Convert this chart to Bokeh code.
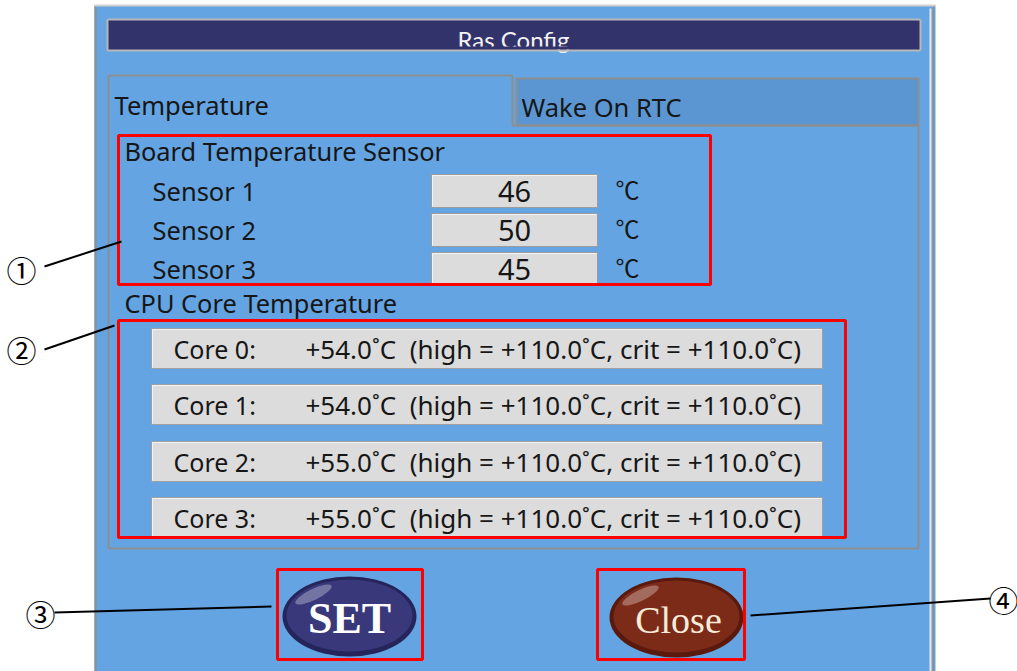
from bokeh.plotting import figure
from bokeh.models import Range1d
from bokeh.core.properties import value
from bokeh.embed import file_html
from bokeh.resources import INLINE

# ---- data ----
window_title = "Ras Config"
tab_labels = ["Temperature", "Wake On RTC"]
board_title = "Board Temperature Sensor"
sensor_labels = ["Sensor 1", "Sensor 2", "Sensor 3"]
sensor_values = [46, 50, 45]
sensor_unit = "℃"
cpu_title = "CPU Core Temperature"
core_labels = ["Core 0:", "Core 1:", "Core 2:", "Core 3:"]
core_temps = [54.0, 54.0, 55.0, 55.0]
core_high = [110.0, 110.0, 110.0, 110.0]
core_crit = [110.0, 110.0, 110.0, 110.0]
callout_marks = ["①", "②", "③", "④"]
button_labels = ["SET", "Close"]

# ---- styles / layout ----
BLUE = "#64a4e2"
TAB2 = "#5b96d3"
NAVY = "#33336b"
GRAY = "#8e8e8e"
BOXF = "#dcdcdc"
RED = "#ff0000"
TXT = "#161616"
FONT = value("Noto Sans")
CJK = value("Noto Sans CJK JP")

p = figure(width=1017, height=671, x_range=Range1d(0, 1017), y_range=Range1d(671, 0),
           output_backend="svg", toolbar_location=None, x_axis_type=None, y_axis_type=None,
           min_border=0, outline_line_color=None, background_fill_color="white",
           border_fill_color="white")
p.grid.visible = False

def rect(l, r, t, b, fill=None, line=None, lw=1, alpha=1.0):
    p.quad(left=[l], right=[r], top=[t], bottom=[b],
           fill_color=fill, fill_alpha=alpha if fill else 0,
           line_color=line, line_width=lw, line_alpha=1 if line else 0)

def seg(x0, y0, x1, y1, color, lw=1):
    p.segment(x0=[x0], y0=[y0], x1=[x1], y1=[y1], line_color=color, line_width=lw)

# outer panel
rect(94, 935, 5, 680, fill=BLUE, line=None)
seg(95, 5, 95, 680, GRAY, 2)
seg(933, 5, 933, 680, GRAY, 2)
seg(930, 8, 930, 680, "#e8e8e8", 2)
seg(94, 5, 935, 5, "#d0d0d0", 2)

# title bar
rect(107, 920, 19, 50, fill=NAVY)
p.text(x=[513], y=[39], text=[window_title], text_font=value("Lato"), text_font_size="24px",
       text_color="#f2f2f2", text_align="center", text_baseline="middle")
rect(107, 920, 46, 49, fill=NAVY)
seg(107, 19, 920, 19, "#b8b8b8", 2)
seg(107, 50, 920, 50, "#b8b8b8", 2)
seg(107, 19, 107, 50, "#b8b8b8", 2)
seg(920, 19, 920, 50, "#b8b8b8", 2)

# tabs
rect(516, 918, 78, 125, fill=TAB2, line=GRAY, lw=2)
seg(108, 75, 512, 75, GRAY, 2)
seg(512, 75, 512, 125, GRAY, 2)
seg(108, 75, 108, 548, GRAY, 2)
seg(108, 548, 918, 548, GRAY, 2)
seg(918, 125, 918, 548, GRAY, 2)
seg(512, 125, 918, 125, GRAY, 2)
p.text(x=[114, 521], y=[104, 106], text=tab_labels, text_font=FONT, text_font_size="25.5px",
       text_color=TXT, text_align="left", text_baseline="middle")

# board temperature sensor section
p.text(x=[124], y=[150], text=[board_title], text_font=FONT, text_font_size="25.4px",
       text_color=TXT, text_align="left", text_baseline="middle")
sy = [190, 229, 268]
p.text(x=[152] * 3, y=sy, text=sensor_labels, text_font=FONT, text_font_size="25.5px",
       text_color=TXT, text_align="left", text_baseline="middle")
for y in sy:
    rect(431, 597, y - 16, y + 17, fill=BOXF, line="#9c9c9c")
    seg(432, y - 15, 596, y - 15, "#f4f4f4", 1)
    seg(432, y - 15, 432, y + 16, "#f4f4f4", 1)
p.text(x=[514] * 3, y=[y + 1 for y in sy], text=[str(v) for v in sensor_values], text_font=FONT,
       text_font_size="29px", text_color=TXT, text_align="center", text_baseline="middle")
p.text(x=[615] * 3, y=[y - 2 for y in sy], text=[sensor_unit] * 3, text_font=CJK,
       text_font_size="24px", text_color=TXT, text_align="left", text_baseline="middle")
rect(118, 710, 135, 284, line=RED, lw=3)

# CPU core section
p.text(x=[124], y=[302], text=[cpu_title], text_font=FONT, text_font_size="25.4px",
       text_color=TXT, text_align="left", text_baseline="middle")
cy = [348, 404, 461, 517]
for y in cy:
    rect(151, 822, y - 20, y + 20, fill=BOXF, line="#a0a0a0")
    seg(152, y - 19, 821, y - 19, "#f4f4f4", 1)
    seg(152, y - 19, 152, y + 19, "#f4f4f4", 1)
core_texts = ["+%.1f˚C\u00a0 (high = +%.1f˚C, crit = +%.1f˚C)" % (t, h, c)
              for t, h, c in zip(core_temps, core_high, core_crit)]
p.text(x=[173] * 4, y=cy, text=core_labels, text_font=FONT, text_font_size="25px",
       text_color=TXT, text_align="left", text_baseline="middle")
p.text(x=[305] * 4, y=cy, text=core_texts, text_font=FONT, text_font_size="26px",
       text_color=TXT, text_align="left", text_baseline="middle")
rect(118, 845, 320, 537, line=RED, lw=3)

# buttons
bx = [349, 676]
by = [616, 617]
outer = ["#25255c", "#5a190d"]
body = ["#38387a", "#7c2b18"]
txtc = ["#ffffff", "#f6ecd8"]
for i in range(2):
    p.ellipse(x=[bx[i]], y=[by[i]], width=134, height=80, fill_color=outer[i], line_color=None)
    p.ellipse(x=[bx[i]], y=[by[i] - 1], width=126, height=72, fill_color=body[i], line_color=None)
    p.ellipse(x=[bx[i] - 36], y=[by[i] - 22], width=40, height=11, angle=0.45,
              fill_color="white", fill_alpha=0.3, line_color=None)
p.text(x=[bx[0]], y=[by[0] + 2], text=[button_labels[0]], text_font=value("Liberation Serif"),
       text_font_size="44px", text_font_style="bold", text_color=txtc[0],
       text_align="center", text_baseline="middle")
p.text(x=[bx[1] + 2], y=[by[1] + 2], text=[button_labels[1]], text_font=value("Liberation Serif"),
       text_font_size="38px", text_color=txtc[1], text_align="center", text_baseline="middle")
rect(277, 422, 569, 659, line=RED, lw=3)
rect(597, 744, 569, 659, line=RED, lw=3)

# callouts
p.text(x=[21, 21, 40, 1003], y=[268, 348, 612, 598], text=callout_marks, text_font=CJK,
       text_font_size="30px", text_color="black", text_align="center", text_baseline="middle")
p.segment(x0=[44, 44, 54, 750], y0=[266, 349, 612, 615], x1=[121, 114, 271, 990],
          y1=[241, 325, 606, 598], line_color="black", line_width=2)

open("out.html", "w").write(file_html(p, INLINE))
